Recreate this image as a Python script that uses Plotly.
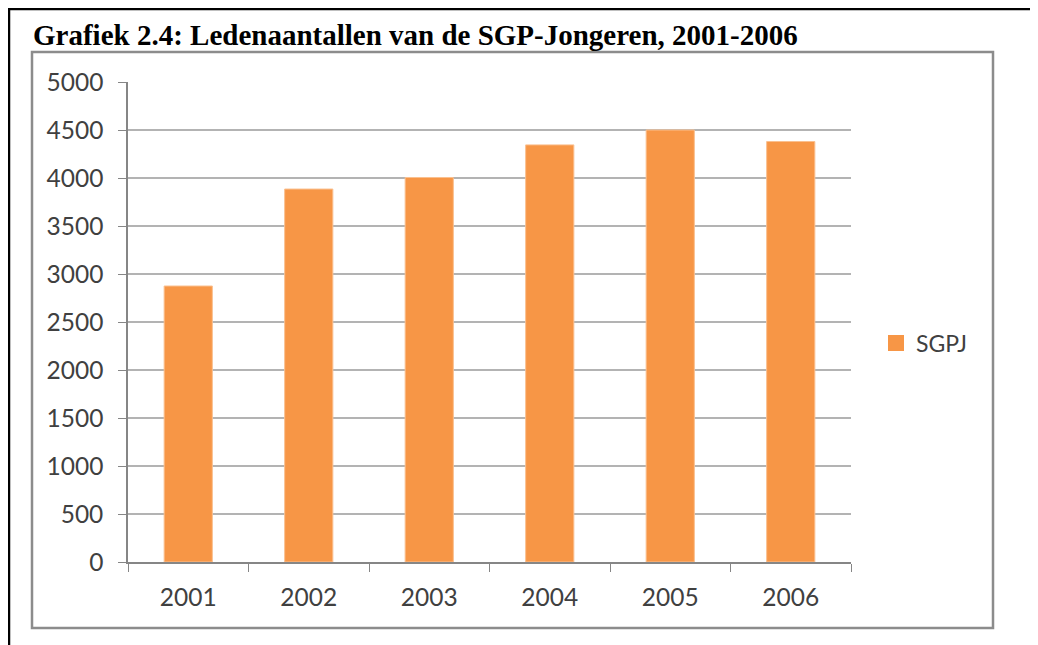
import plotly.graph_objects as go

years = ["2001", "2002", "2003", "2004", "2005", "2006"]
members = [2875, 3885, 4005, 4345, 4500, 4380]
series_name = "SGPJ"
title_text = "Grafiek 2.4: Ledenaantallen van de SGP-Jongeren, 2001-2006"

# page is offset by the 8px body margin, so figure coords = page coords - 8
OFF = 8
W, H = 1038 - OFF, 645 - OFF
L, R, T, B = 128 - OFF, 851 - OFF, 82 - OFF, 562 - OFF

def px(x):
    return (x - OFF - L) / (R - L)

def py(y):
    return (B - (y - OFF)) / (B - T)

bar_color = "#F79646"

fig = go.Figure()
fig.add_trace(go.Bar(
    x=years, y=members, name=series_name,
    marker=dict(color=bar_color, line=dict(color="#FAC090", width=1)),
    width=0.4, showlegend=False,
))
# legend swatch (square, larger than plotly's default bar swatch)
fig.add_trace(go.Scatter(
    x=[None], y=[None], mode="markers", name=series_name,
    marker=dict(symbol="square", size=16, color=bar_color),
    showlegend=True,
))

tickfont = dict(family="Lato, Open Sans, sans-serif", size=24.5, color="#404040")

fig.update_layout(
    width=W, height=H,
    margin=dict(l=L, r=W - R, t=T, b=H - B),
    paper_bgcolor="white", plot_bgcolor="white",
    showlegend=True,
    legend=dict(x=px(876), y=py(343), xanchor="left", yanchor="middle",
                font=dict(family="Lato, Open Sans, sans-serif", size=23, color="#404040"),
                bgcolor="rgba(0,0,0,0)", itemwidth=30),
    title=dict(text="<b>" + title_text + "</b>", xref="container", yref="container",
               x=(33 - OFF) / W, y=1 - (35 - OFF) / H, xanchor="left", yanchor="middle",
               font=dict(family="Liberation Serif, Times New Roman, serif", size=29, color="black")),
    xaxis=dict(type="category", tickson="boundaries", ticks="outside", ticklen=8,
               tickcolor="#868686", showline=True, linecolor="#868686", linewidth=1.5,
               tickfont=tickfont, showgrid=False, ticklabelstandoff=13),
    yaxis=dict(range=[0, 5000], dtick=500, ticks="outside", ticklen=8, tickcolor="#868686",
               showline=True, linecolor="#868686", linewidth=1.5,
               gridcolor="#B3B3B3", gridwidth=1.5, tickfont=tickfont,
               zeroline=False, ticklabelstandoff=10),
)

shapes = [
    # inner chart frame
    dict(type="rect", xref="paper", yref="paper", x0=px(32), x1=px(993), y0=py(628), y1=py(52),
         line=dict(color="#8C8C8C", width=2.5), layer="below"),
    # outer frame: top and left lines
    dict(type="line", xref="paper", yref="paper", x0=px(9), x1=px(1045), y0=py(OFF + 1), y1=py(OFF + 1),
         line=dict(color="black", width=2.5)),
    dict(type="line", xref="paper", yref="paper", x0=px(9), x1=px(9), y0=py(OFF), y1=py(660),
         line=dict(color="black", width=2.5)),
]
fig.update_layout(shapes=shapes)

fig.write_html("out.html")
